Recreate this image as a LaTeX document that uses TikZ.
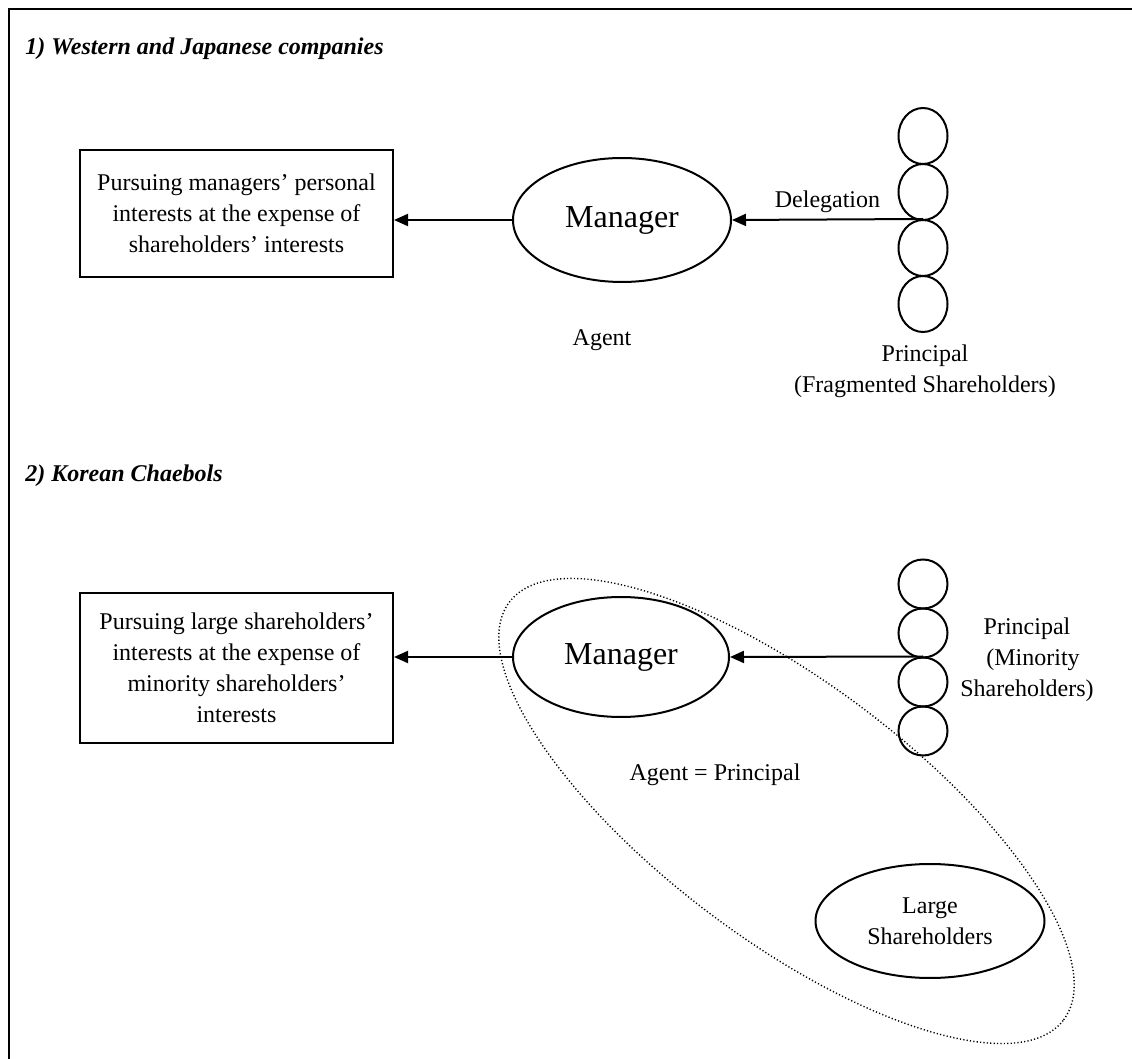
\documentclass[tikz,border=0pt]{standalone}
\usepackage{fontspec}
\setmainfont{Liberation Serif}
\usetikzlibrary{arrows.meta,shapes.geometric}
\begin{document}
\begin{tikzpicture}[x=0.5pt,y=-0.5pt,
  every node/.style={font=\fontsize{12}{15.5}\selectfont, inner sep=0pt},
  heading/.style={font=\fontsize{12}{15}\selectfont\bfseries\itshape, anchor=base west},
  outcome/.style={draw, line width=1pt, minimum width=156.5pt, align=center},
  actor/.style={draw, ellipse, line width=1pt, font=\fontsize{16}{19}\selectfont},
  holder/.style={draw, ellipse, line width=1pt, minimum width=24.5pt},
  lbl/.style={align=center},
  flow/.style={line width=1pt, -{Triangle[length=7pt,width=6pt]}},
  dots/.style={line width=0.7pt, dash pattern=on 0.6pt off 1.1pt}]
\useasboundingbox (0,0) rectangle (1132,1059);
% frame
\draw[line width=1pt] (1132,9) -- (9,9) -- (9,1059);

% ---- 1) Western and Japanese companies
\node[heading] (h1) at (25,55) {1) Western and Japanese companies};
\node[outcome, minimum height=63.5pt] (o1) at (236.5,213.5)
  {Pursuing managers’ personal\\interests at the expense of\\shareholders’ interests};
\node[actor, minimum width=109pt, minimum height=62pt] (m1) at (622,220) {Manager};
\node[holder, minimum height=28pt] (a1) at (923,136) {};
\node[holder, minimum height=28pt] (a2) at (923,192) {};
\node[holder, minimum height=28pt] (a3) at (923,248) {};
\node[holder, minimum height=28pt] (a4) at (923,304) {};
\draw[flow] (a3.north) -- (m1.east) node[midway, above=3pt] (dl) {Delegation};
\draw[flow] (m1.west) -- (m1.west -| o1.east);
\node (ag1) at (602,340) {Agent};
\node[lbl] (p1) at (925,371) {Principal\\(Fragmented Shareholders)};

% ---- 2) Korean Chaebols
\node[heading] (h2) at (25,482) {2) Korean Chaebols};
\node[outcome, minimum height=75pt] (o2) at (236.5,668)
  {Pursuing large shareholders’\\interests at the expense of\\minority shareholders’\\interests};
\node[actor, minimum width=108pt, minimum height=60pt] (m2) at (621,657) {Manager};
\node[holder, minimum height=24.5pt] (b1) at (923,584) {};
\node[holder, minimum height=24.5pt] (b2) at (923,633) {};
\node[holder, minimum height=24.5pt] (b3) at (923,682) {};
\node[holder, minimum height=24.5pt] (b4) at (923,731) {};
\draw[flow] (b3.north) -- (m2.east);
\draw[flow] (m2.west) -- (m2.west -| o2.east);
\node[lbl] (p2) at (1027,660) {Principal\\\hspace*{6pt}(Minority\\Shareholders)};
\node (ap) at (715,775) {Agent = Principal};
\node[draw, ellipse, line width=1pt, minimum width=114.5pt, minimum height=57pt, align=center]
  (ls) at (930,921) {Large\\Shareholders};
% dotted group: the large shareholders acting as agent
\node[dots, draw, ellipse, minimum width=347pt, minimum height=128pt, rotate=-37] (grp) at (786.5,811) {};
\end{tikzpicture}
\end{document}
